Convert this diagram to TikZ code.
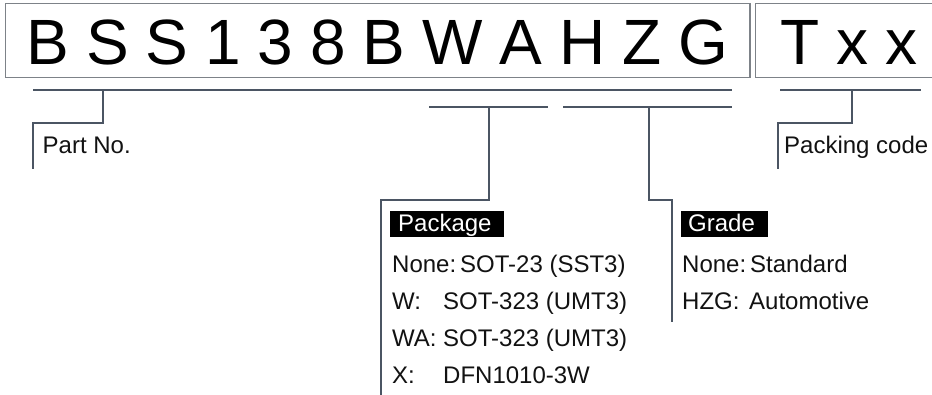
\documentclass[tikz,border=0pt]{standalone}
\usepackage{fontspec}
\setmainfont{Liberation Sans}
\definecolor{connc}{HTML}{4B5563}
\definecolor{boxc}{HTML}{7D8288}
\newcommand\trk{\kern16.9pt}
\begin{document}
\begin{tikzpicture}[x=1pt,y=-1pt,
  conn/.style={draw=connc,line width=2.2pt},
  frame/.style={draw=boxc,line width=1.2pt},
  big/.style={inner sep=0pt,anchor=base west,font=\fontsize{64}{70}\selectfont},
  txt/.style={inner sep=0pt,anchor=base west,text=black!93,font=\fontsize{24}{28}\selectfont},
  tagbg/.style={fill=black},
  tagtxt/.style={inner sep=0pt,anchor=base west,text=white,font=\fontsize{24}{28}\selectfont}]
\useasboundingbox (0,0) rectangle (932,395);
\fill[white] (0,0) rectangle (932,395);
% boxes
\draw[frame] (5.7,3.3) rectangle (750,77.7);
\draw[frame] (755.5,3.3) rectangle (950,77.7);
\node[big] (code) at (26.3,65) {B\trk S\trk S\trk 1\trk 3\trk 8\trk B\trk W\trk A\trk H\trk Z\trk G};
\node[big] (pack) at (780.3,65) {T\trk x\trk x};
% coordinates
\coordinate (l1a) at (33,90);
\coordinate (l1b) at (732,90);
\coordinate (pn1) at (103,90);
\coordinate (pn2) at (32.7,123);
\coordinate (pn3) at (32.7,169);
\coordinate (pk1) at (429,107);
\coordinate (pk2) at (548,107);
\coordinate (pkd) at (489,107);
\coordinate (pkc) at (381,200);
\coordinate (pke) at (381,400);
\coordinate (gr1) at (563,107);
\coordinate (gr2) at (732,107);
\coordinate (grd) at (649,107);
\coordinate (grc) at (672,200);
\coordinate (gre) at (672,322);
\coordinate (pc1) at (780,90);
\coordinate (pc2) at (921,90);
\coordinate (pcd) at (852,90);
\coordinate (pcc) at (778,123);
\coordinate (pce) at (778,169);
% connectors
\draw[conn] (l1a) -- (l1b);
\draw[conn] (pn1) |- (pn2) -- (pn3);
\draw[conn] (pk1) -- (pk2);
\draw[conn] (pkd) |- (pkc) -- (pke);
\draw[conn] (gr1) -- (gr2);
\draw[conn] (grd) |- (grc) -- (gre);
\draw[conn] (pc1) -- (pc2);
\draw[conn] (pcd) |- (pcc) -- (pce);
% labels
\node[txt] (partno) at (42.5,154) {Part No.};
\node[txt] (packcode) at (784,154) {Packing code};
\fill[tagbg] (390,211) rectangle (504,237);
\node[tagtxt] (pkg) at (398,232) {Package};
\node[txt] (p1a) at (392,273) {None:};
\node[txt] (p1b) at (460,273) {SOT-23 (SST3)};
\node[txt] (p2a) at (392,310) {W:};
\node[txt] (p2b) at (443,310) {SOT-323 (UMT3)};
\node[txt] (p3a) at (392,347) {WA:};
\node[txt] (p3b) at (443,347) {SOT-323 (UMT3)};
\node[txt] (p4a) at (392,384) {X:};
\node[txt] (p4b) at (443,384) {DFN1010-3W};
\fill[tagbg] (681,211) rectangle (768,237);
\node[tagtxt] (grd) at (688,232) {Grade};
\node[txt] (g1a) at (682,273) {None:};
\node[txt] (g1b) at (750,273) {Standard};
\node[txt] (g2a) at (682,310) {HZG:};
\node[txt] (g2b) at (749,310) {Automotive};
\end{tikzpicture}
\end{document}
